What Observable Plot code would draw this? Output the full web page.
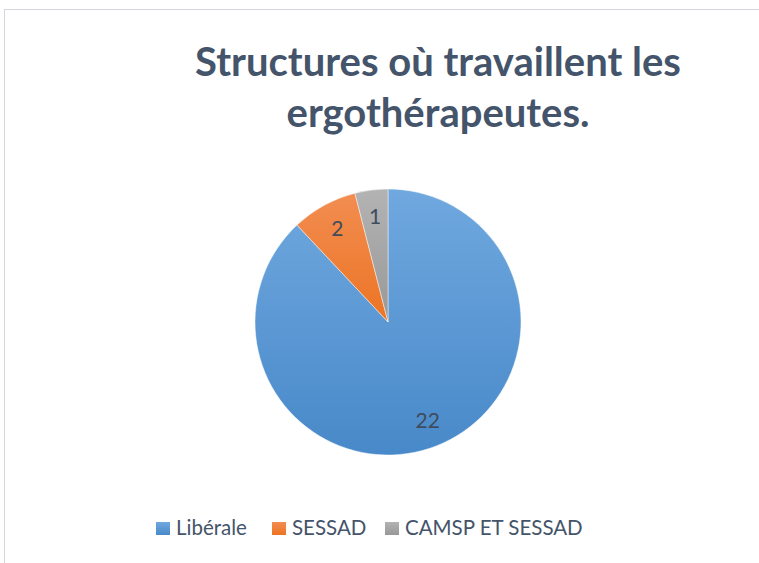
<!DOCTYPE html>
<html><head><meta charset="utf-8">
<script src="https://cdn.jsdelivr.net/npm/d3@7"></script>
<script src="https://cdn.jsdelivr.net/npm/@observablehq/plot@0.6"></script>
<style>
body{margin:0;background:#fff;}
#wrap{position:relative;width:759px;height:563px;overflow:hidden;font-family:Lato,"Open Sans",sans-serif;background:#fff;}
#frame{position:absolute;left:4px;top:9px;width:800px;height:600px;border-top:1px solid #d3d7dd;border-left:1px solid #d3d7dd;}
#title{position:absolute;left:118px;top:36px;width:640px;text-align:center;font-weight:700;font-size:40px;line-height:51px;color:#44546a;}
#chart{position:absolute;left:0;top:0;}
.item{position:absolute;top:515px;height:25px;font-size:20.5px;line-height:25px;color:#44546a;white-space:nowrap;}
.sw{position:absolute;left:0;top:7px;width:14px;height:13px;}
.lt{position:absolute;left:20px;top:0;}
</style>
</head><body>
<div id="wrap">
  <div id="frame"></div>
  <div id="title">Structures où travaillent les<br>ergothérapeutes.</div>
  <div id="chart"></div>
  <div id="legend"></div>
</div>
<script>
const categories = ["Libérale", "SESSAD", "CAMSP ET SESSAD"];
const values = [22, 2, 1];
const colorTop = ["#70a8df", "#f28d51", "#b3b3b3"];
const colorBottom = ["#4889c9", "#ec7424", "#989898"];

const data = categories.map((c, i) => ({category: c, value: values[i]}));
const arcs = d3.pie().sort(null).value(d => d.value)(data);
const labelR = 0.8;
const labels = arcs.map(a => {
  const m = (a.startAngle + a.endAngle) / 2;
  return {text: String(a.data.value), x: labelR * Math.sin(m), y: labelR * Math.cos(m)};
});

function pieMark(index, scales) {
  const cx = scales.x(0), cy = scales.y(0), r = scales.x(1) - scales.x(0);
  const g = d3.create("svg:g");
  const defs = g.append("defs");
  arcs.forEach((a, i) => {
    const lg = defs.append("linearGradient").attr("id", "pg" + i)
      .attr("x1", 0).attr("y1", 0).attr("x2", 0).attr("y2", 1);
    lg.append("stop").attr("offset", "0%").attr("stop-color", colorTop[i]);
    lg.append("stop").attr("offset", "100%").attr("stop-color", colorBottom[i]);
  });
  const arc = d3.arc().innerRadius(0).outerRadius(r);
  g.selectAll("path").data(arcs).join("path")
    .attr("transform", `translate(${cx},${cy})`)
    .attr("d", arc)
    .attr("fill", (d, i) => `url(#pg${i})`)
    .attr("stroke", "#ffffff")
    .attr("stroke-opacity", 0.6)
    .attr("stroke-width", 0.75);
  return g.node();
}

const chart = Plot.plot({
  width: 759,
  height: 563,
  margin: 0,
  style: {background: "transparent", overflow: "visible"},
  x: {domain: [-1, 1], range: [255, 521], axis: null},
  y: {domain: [-1, 1], range: [455, 189], axis: null},
  marks: [
    pieMark,
    Plot.text(labels, {x: "x", y: "y", text: "text", fontSize: 21, fill: "#404b5c", fontFamily: "Lato, sans-serif"})
  ]
});
document.getElementById("chart").appendChild(chart);

const legendX = [156, 272, 385];
const legend = document.getElementById("legend");
categories.forEach((c, i) => {
  const it = document.createElement("div");
  it.className = "item";
  it.style.left = legendX[i] + "px";
  const sw = document.createElement("span");
  sw.className = "sw";
  sw.style.background = `linear-gradient(${colorTop[i]}, ${colorBottom[i]})`;
  const t = document.createElement("span");
  t.className = "lt";
  t.textContent = c;
  it.appendChild(sw); it.appendChild(t);
  legend.appendChild(it);
});
</script>
</body></html>
